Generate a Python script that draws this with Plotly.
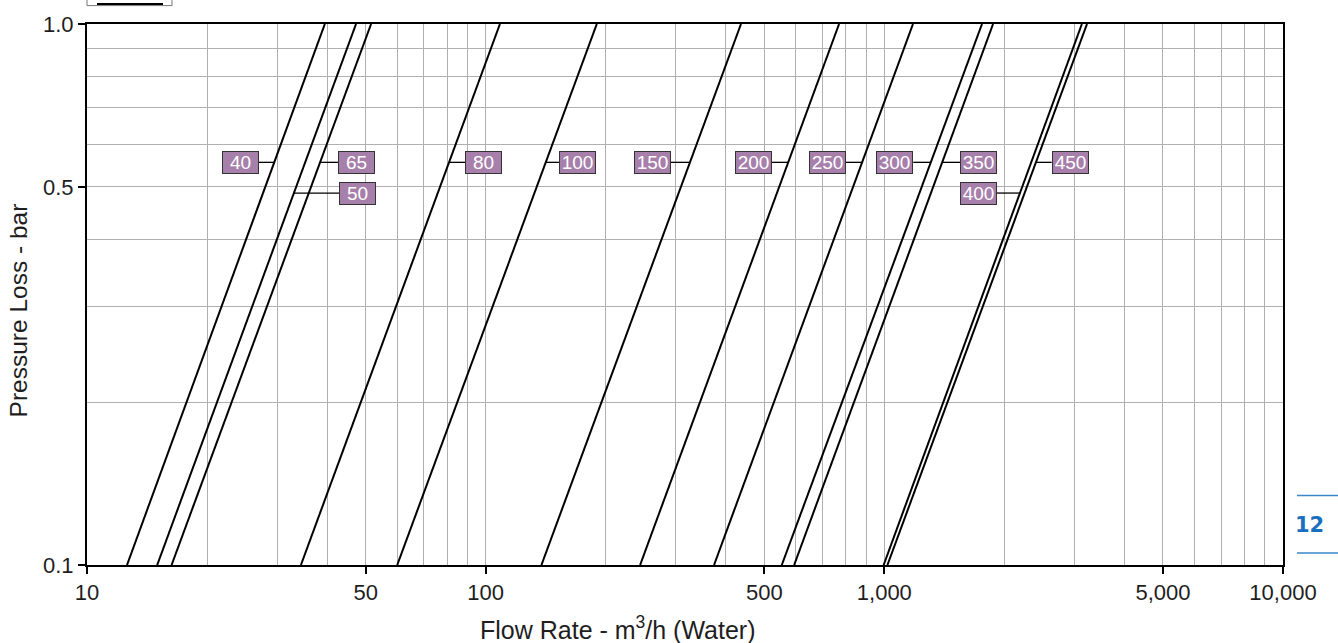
import math
import plotly.graph_objects as go

# ---- data ----
sizes = ["40", "50", "65", "80", "100", "150", "200", "250", "300", "350", "400", "450"]
# flow rate (m3/h) where each size's curve meets 0.1 bar and 1.0 bar
q_at_0_1_bar = [12.6, 15.0, 16.3, 34.4, 60.0, 138, 244, 374, 553, 594, 996, 1018]
q_at_1_0_bar = [39.5, 47.3, 51.6, 108.6, 190, 437, 770, 1180, 1758, 1874, 3130, 3224]
pressure_ends = [0.1, 1.0]

# label call-outs: side of the curve, pressure level, flow at box edge
label_side = ["left", "right", "right", "right", "right", "left",
              "left", "left", "left", "right", "left", "right"]
label_p = [0.555, 0.487, 0.555, 0.555, 0.555, 0.555,
           0.555, 0.555, 0.555, 0.555, 0.487, 0.555]
label_edge_q = [27.0, 42.9, 42.6, 88.8, 152.7, 291, 522, 801, 1182, 1548, 1913, 2629]

x_tick_vals = [10, 50, 100, 500, 1000, 5000, 10000]
x_tick_text = ["10", "50", "100", "500", "1,000", "5,000", "10,000"]
x_minor_vals = [20, 30, 40, 60, 70, 80, 90, 200, 300, 400, 600, 700, 800, 900,
                2000, 3000, 4000, 6000, 7000, 8000, 9000]
y_tick_vals = [0.1, 0.5, 1.0]
y_tick_text = ["0.1", "0.5", "1.0"]
y_minor_vals = [0.2, 0.3, 0.4, 0.6, 0.7, 0.8, 0.9]

FONT = "Liberation Sans, Arial, sans-serif"
PURPLE = "#a77fab"
GRID = "#b0b0b0"
TEXT = "#1e1e1e"

fig = go.Figure()

# curves
for s, q0, q1 in zip(sizes, q_at_0_1_bar, q_at_1_0_bar):
    fig.add_trace(go.Scatter(
        x=[q0, q1], y=pressure_ends, mode="lines",
        line=dict(color="black", width=2), name=s, showlegend=False,
        hoverinfo="skip"))


def q_on_curve(q0, q1, p):
    t = (math.log10(p) - math.log10(pressure_ends[0])) / (
        math.log10(pressure_ends[1]) - math.log10(pressure_ends[0]))
    return 10 ** (math.log10(q0) + t * (math.log10(q1) - math.log10(q0)))


annotations = []
for s, q0, q1, side, p, edge in zip(sizes, q_at_0_1_bar, q_at_1_0_bar,
                                    label_side, label_p, label_edge_q):
    qc = q_on_curve(q0, q1, p)
    fig.add_trace(go.Scatter(
        x=[qc, edge], y=[p, p], mode="lines",
        line=dict(color="black", width=1.3), showlegend=False,
        hoverinfo="skip"))
    annotations.append(dict(
        x=math.log10(edge), y=math.log10(p), xref="x", yref="y",
        text=s, showarrow=False,
        xanchor="right" if side == "left" else "left", yanchor="middle",
        bgcolor=PURPLE, bordercolor="#333333", borderwidth=1, borderpad=0,
        width=35, height=21, align="center",
        font=dict(family=FONT, size=19, color="white")))

# axis titles
annotations.append(dict(
    x=(618 - 87) / 1196, y=(565 - 628) / 544, xref="paper", yref="paper",
    text="Flow Rate - m<sup>3</sup>/h (Water)", showarrow=False,
    xanchor="center", yanchor="middle",
    font=dict(family=FONT, size=25, color=TEXT)))
annotations.append(dict(
    x=(18 - 87) / 1196, y=(565 - 309) / 544, xref="paper", yref="paper",
    text="Pressure Loss - bar", showarrow=False, textangle=-90,
    xanchor="center", yanchor="middle",
    font=dict(family=FONT, size=24.5, color=TEXT)))
# page marker
annotations.append(dict(
    x=(1309 - 87) / 1196, y=(565 - 525) / 544, xref="paper", yref="paper",
    text="<b>12</b>", showarrow=False, xanchor="center", yanchor="middle",
    font=dict(family="DejaVu Sans, sans-serif", size=21, color="#1a6fbf")))

shapes = [
    dict(type="line", xref="paper", yref="paper",
         x0=(1297 - 87) / 1196, x1=(1338 - 87) / 1196,
         y0=(565 - 495) / 544, y1=(565 - 495) / 544,
         line=dict(color="#3a86c8", width=1.5)),
    dict(type="line", xref="paper", yref="paper",
         x0=(1297 - 87) / 1196, x1=(1338 - 87) / 1196,
         y0=(565 - 553) / 544, y1=(565 - 553) / 544,
         line=dict(color="#3a86c8", width=1.5)),
    # cut-off box at the top-left edge
    dict(type="rect", xref="paper", yref="paper",
         x0=0, x1=(172 - 87) / 1196,
         y0=(565 - 2.5) / 544, y1=(565 + 10) / 544,
         line=dict(color="#777", width=1), fillcolor="white"),
    dict(type="line", xref="paper", yref="paper",
         x0=(97 - 87) / 1196, x1=(163 - 87) / 1196,
         y0=(565 - 1) / 544, y1=(565 - 1) / 544,
         line=dict(color="black", width=2)),
]

fig.update_layout(
    width=1338, height=643, autosize=False,
    margin=dict(l=87, r=55, t=21, b=78),
    paper_bgcolor="white", plot_bgcolor="white",
    font=dict(family=FONT, size=22, color=TEXT),
    annotations=annotations, shapes=shapes,
    showlegend=False,
)

fig.update_xaxes(
    type="log", range=[1, 4],
    tickmode="array", tickvals=x_tick_vals, ticktext=x_tick_text,
    ticks="outside", ticklen=7, tickwidth=2, tickcolor="black",
    showgrid=True, gridcolor=GRID, gridwidth=1,
    minor=dict(tickmode="array", tickvals=x_minor_vals, showgrid=True,
               gridcolor=GRID, gridwidth=1, ticks=""),
    showline=True, linecolor="black", linewidth=2, mirror=True,
    zeroline=False, tickfont=dict(family=FONT, size=22, color=TEXT),
)
fig.update_yaxes(
    type="log", range=[-1, 0],
    tickmode="array", tickvals=y_tick_vals, ticktext=y_tick_text,
    ticks="outside", ticklen=7, tickwidth=2, tickcolor="black",
    showgrid=True, gridcolor=GRID, gridwidth=1,
    minor=dict(tickmode="array", tickvals=y_minor_vals, showgrid=True,
               gridcolor=GRID, gridwidth=1, ticks=""),
    showline=True, linecolor="black", linewidth=2, mirror=True,
    zeroline=False, tickfont=dict(family=FONT, size=22, color=TEXT),
)

fig.write_html("out.html")
